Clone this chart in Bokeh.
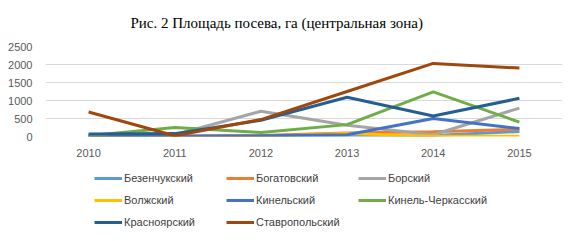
from bokeh.plotting import figure
from bokeh.layouts import column
from bokeh.models import Legend, LegendItem, FixedTicker, Title
from bokeh.embed import file_html
from bokeh.resources import INLINE

years = ["2010", "2011", "2012", "2013", "2014", "2015"]
names = ["Безенчукский", "Богатовский", "Борский", "Волжский",
         "Кинельский", "Кинель-Черкасский", "Красноярский", "Ставропольский"]
bezenchuk = [10, 10, 20, 30, 30, 140]
bogatovsky = [10, 10, 30, 100, 130, 200]
borsky = [30, 50, 700, 310, 50, 790]
volzhsky = [0, 0, 10, 80, 10, 10]
kinelsky = [10, 10, 20, 50, 500, 220]
kinel_cherkassky = [20, 250, 110, 330, 1240, 400]
krasnoyarsky = [70, 80, 450, 1090, 570, 1060]
stavropolsky = [680, 20, 470, 1250, 2030, 1900]
series = [bezenchuk, bogatovsky, borsky, volzhsky, kinelsky,
          kinel_cherkassky, krasnoyarsky, stavropolsky]
colors = ["#5B9BD5", "#ED7D31", "#A5A5A5", "#FFC000",
          "#4472C4", "#70AD47", "#255E91", "#9E480E"]

p = figure(x_range=years, y_range=(0, 2500),
           frame_width=517, frame_height=90,
           output_backend="svg", toolbar_location=None,
           min_border_left=45, min_border_right=16, min_border_top=46,
           min_border_bottom=28)
p.title = Title(text="Рис. 2 Площадь посева, га (центральная зона)",
                text_font="Liberation Serif", text_font_size="15px",
                text_font_style="normal", align="left", text_color="#000000",
                offset=85, standoff=28, vertical_align="top")
p.outline_line_color = None
p.background_fill_color = "white"
p.border_fill_color = "white"

p.xgrid.grid_line_color = None
p.ygrid.grid_line_color = "#d9d9d9"
p.yaxis.ticker = FixedTicker(ticks=[0, 500, 1000, 1500, 2000, 2500])
for ax in (p.xaxis[0], p.yaxis[0]):
    ax.axis_line_color = None
    ax.major_tick_line_color = None
    ax.minor_tick_line_color = None
    ax.major_label_text_font = "Liberation Sans"
    ax.major_label_text_font_size = "11px"
    ax.major_label_text_color = "#595959"
p.xaxis.major_label_standoff = 6
p.yaxis.major_label_standoff = 7
p.x_range.range_padding = 0

for name, vals, col in zip(names, series, colors):
    p.line(years, vals, line_color=col, line_width=3)

# legend lives in its own strip below the chart
lg = figure(width=578, height=77, output_backend="svg", toolbar_location=None,
            min_border=0, x_range=(0, 1), y_range=(0, 1),
            x_axis_location=None, y_axis_location=None)
lg.grid.visible = False
lg.outline_line_color = None
lg.border_fill_color = "white"
items = []
for name, col in zip(names, colors):
    r = lg.line([-10, -9], [-10, -9], line_color=col, line_width=3)
    items.append(LegendItem(label=name, renderers=[r]))
order = [0, 3, 6, 1, 4, 7, 2, 5]
items = [items[i] for i in order]

legend = Legend(items=items, ncols=3, location=(49, 8),
                label_text_font="Liberation Sans", label_text_font_size="11px",
                label_text_color="#404040", glyph_width=28, glyph_height=12,
                label_standoff=2, label_width=102, spacing=0,
                border_line_color=None, background_fill_alpha=0,
                padding=2, margin=0, label_height=22)
lg.add_layout(legend, "center")

layout = column(p, lg, spacing=0)
open("out.html", "w").write(file_html(layout, INLINE))
